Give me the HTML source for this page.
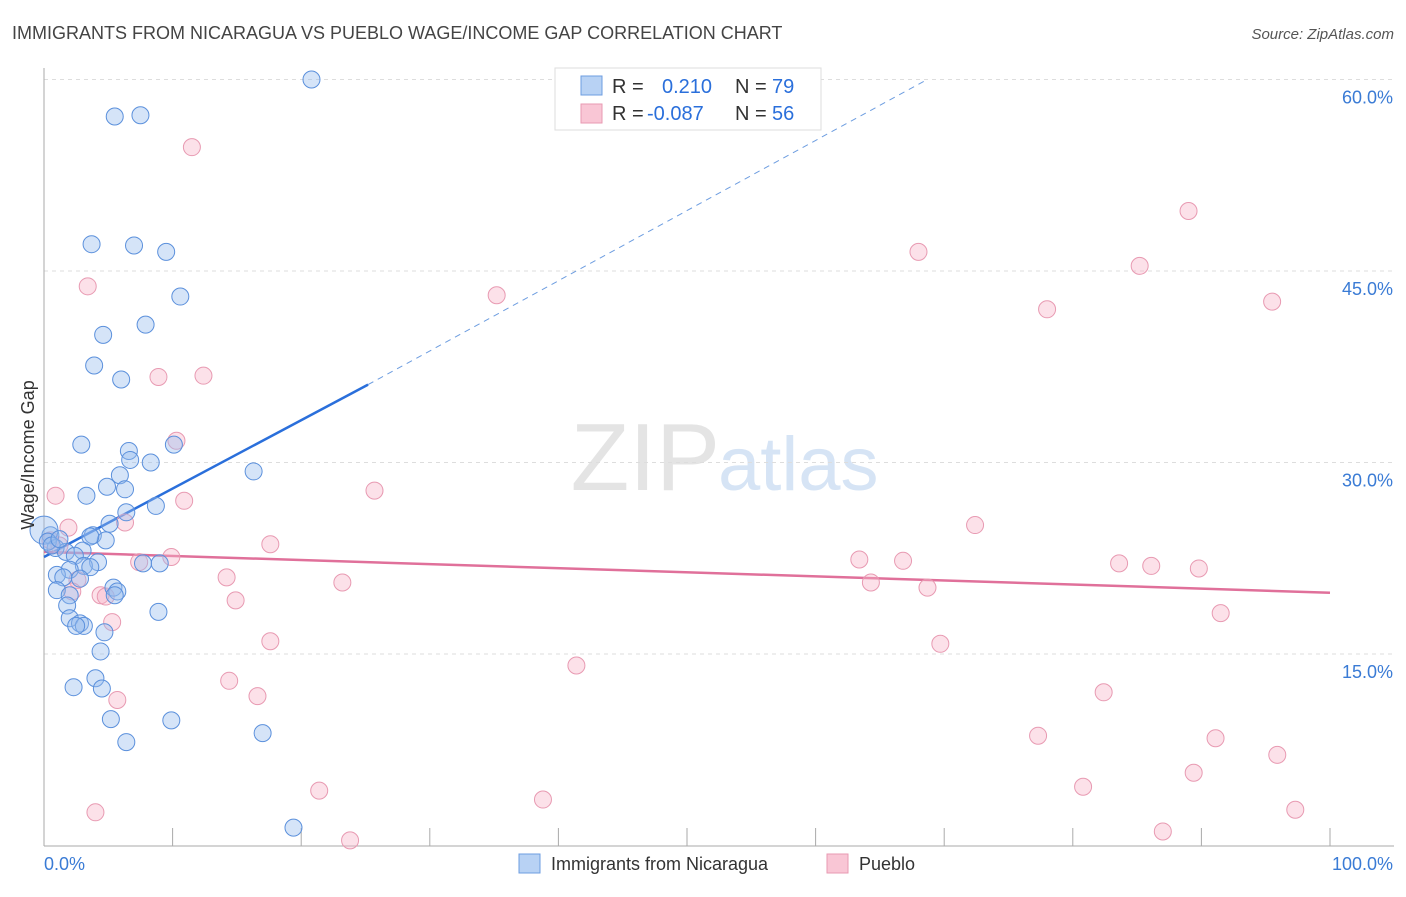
<!DOCTYPE html>
<html><head><meta charset="utf-8"><style>
body{margin:0;background:#fff;font-family:"Liberation Sans",sans-serif;}
svg text{font-family:"Liberation Sans",sans-serif;}
</style></head><body>
<svg id="chart" width="1406" height="892">
<text x="12" y="39" font-size="18" fill="#444">IMMIGRANTS FROM NICARAGUA VS PUEBLO WAGE/INCOME GAP CORRELATION CHART</text>
<text x="1394" y="39" font-size="15" fill="#555" font-style="italic" text-anchor="end">Source: ZipAtlas.com</text>
<text x="720" y="490" font-size="96" fill="#e4e4e4" text-anchor="end" font-family="Liberation Serif">ZIP</text>
<text x="718" y="490" font-size="76" fill="#d6e4f5">atlas</text>
<g id="grid"></g><g id="axes"></g>
<g id="trend"></g><g id="pts"></g>
<text x="34" y="455" font-size="18" fill="#333" transform="rotate(-90 34 455)" text-anchor="middle">Wage/Income Gap</text>
<g>
<rect x="555" y="68" width="266" height="62" fill="#fff" stroke="#ddd"/>
<rect x="581" y="76" width="21" height="19" fill="#b8d2f4" stroke="#6d9de0"/>
<rect x="581" y="104" width="21" height="19" fill="#f9c6d5" stroke="#e89ab2"/>
<text x="612" y="93" font-size="20" fill="#333">R = </text><text x="662" y="93" font-size="20" fill="#2a6fdb">0.210</text>
<text x="735" y="93" font-size="20" fill="#333">N = </text><text x="772" y="93" font-size="20" fill="#2a6fdb">79</text>
<text x="612" y="120" font-size="20" fill="#333">R = </text><text x="647" y="120" font-size="20" fill="#2a6fdb">-0.087</text>
<text x="735" y="120" font-size="20" fill="#333">N = </text><text x="772" y="120" font-size="20" fill="#2a6fdb">56</text>
</g>
<g>
<rect x="519" y="854" width="21" height="19" fill="#b8d2f4" stroke="#6d9de0"/>
<text x="551" y="870" font-size="18" fill="#333">Immigrants from Nicaragua</text>
<rect x="827" y="854" width="21" height="19" fill="#f9c6d5" stroke="#e89ab2"/>
<text x="859" y="870" font-size="18" fill="#333">Pueblo</text>
</g>
</svg>
<script>
const blueX=[20.8,5.5,7.5,3.7,7.0,9.5,10.6,7.9,4.6,3.9,6.0,2.9,10.1,6.6,6.7,8.3,16.3,5.9,6.3,4.9,3.3,8.7,6.4,5.1,3.8,4.8,3.6,0.5,0.0,0.9,3.0,1.7,2.4,4.2,7.7,9.0,3.1,3.6,2.0,1.0,1.5,2.8,5.4,5.7,5.5,1.0,2.0,1.8,8.9,2.0,2.8,3.1,2.5,4.7,4.4,4.0,2.3,4.5,5.2,9.9,17.0,6.4,19.4,0.3,0.6,1.2];
const blueY=[60.0,57.1,57.2,47.1,47.0,46.5,43.0,40.8,40.0,37.6,36.5,31.4,31.4,30.9,30.2,30.0,29.3,29.0,27.9,28.1,27.4,26.6,26.1,25.2,24.3,23.9,24.2,24.3,24.7,23.3,23.1,23.0,22.7,22.2,22.1,22.1,21.9,21.8,21.6,21.2,21.0,20.9,20.2,19.9,19.6,20.0,19.6,18.8,18.3,17.8,17.4,17.2,17.2,16.7,15.2,13.1,12.4,12.3,9.9,9.8,8.8,8.1,1.4,23.8,23.5,24.0];
const pinkX=[11.5,3.4,35.2,68.0,89.0,85.2,78.0,95.5,8.9,12.4,10.3,0.9,25.7,10.9,6.3,1.9,72.4,17.6,9.9,7.4,63.4,66.8,83.6,86.1,89.8,14.2,23.2,64.3,68.7,2.6,2.2,4.4,4.8,14.9,91.5,5.3,17.6,69.7,41.4,14.4,16.6,5.7,82.4,77.3,91.1,95.9,89.4,80.8,21.4,38.8,4.0,97.3,87.0,23.8,0.5,1.2];
const pinkY=[54.7,43.8,43.1,46.5,49.7,45.4,42.0,42.6,36.7,36.8,31.7,27.4,27.8,27.0,25.3,24.9,25.1,23.6,22.6,22.2,22.4,22.3,22.1,21.9,21.7,21.0,20.6,20.6,20.2,20.8,19.9,19.6,19.5,19.2,18.2,17.5,16.0,15.8,14.1,12.9,11.7,11.4,12.0,8.6,8.4,7.1,5.7,4.6,4.3,3.6,2.6,2.8,1.1,0.4,23.9,23.5];
const yTicks=[15,30,45,60];
const yTickLabels=["15.0%","30.0%","45.0%","60.0%"];
const xTicks=[0,10,20,30,40,50,60,70,80,90,100];
const blueTrend={x0:0,y0:22.6,x1:25.2,y1:36.1,x2:68.5,y2:59.9};
const pinkTrend={x0:0,y0:23.0,x1:100,y1:19.8};
const X=v=>44+v*12.86, Y=v=>845.5-v*191.5/15;
const NS="http://www.w3.org/2000/svg";
function mk(tag,attrs,parent){const e=document.createElementNS(NS,tag);for(const k in attrs)e.setAttribute(k,attrs[k]);document.getElementById(parent).appendChild(e);return e;}
yTicks.forEach((t,i)=>{
 const g=mk('line',{x1:44,x2:1394,y1:Y(t),y2:Y(t),stroke:'#ddd','stroke-dasharray':'4,4'},'grid');
 
 
 const l=mk('text',{x:1393,y:Y(t)+24,'font-size':18,fill:'#3a7bd5','text-anchor':'end'},'grid');
 l.textContent=yTickLabels[i];
 
 
});
const ax=mk('line',{x1:44,x2:44,y1:68,y2:846,stroke:'#aaa'},'axes');


const bx=mk('line',{x1:44,x2:1394,y1:846,y2:846,stroke:'#aaa'},'axes');


xTicks.forEach(t=>{
 const tk=mk('line',{x1:X(t),x2:X(t),y1:828,y2:846,stroke:'#aaa'},'axes');
 
 
});
const xl0=mk('text',{x:44,y:870,'font-size':18,fill:'#3a7bd5'},'axes');xl0.textContent='0.0%';


const xl1=mk('text',{x:1393,y:870,'font-size':18,fill:'#3a7bd5','text-anchor':'end'},'axes');xl1.textContent='100.0%';


pinkX.forEach((x,i)=>{
 const c=mk('circle',{cx:X(x),cy:Y(pinkY[i]),r:8.5,fill:'rgba(248,180,200,0.4)',stroke:'#e89ab2','stroke-width':1},'pts');
 
 
});
blueX.forEach((x,i)=>{
 const c=mk('circle',{cx:X(x),cy:Y(blueY[i]),r:(i==28?14:8.5),fill:'rgba(150,188,238,0.4)',stroke:'#5b90dc','stroke-width':1},'pts');
 
 
});
const b1=mk('line',{x1:X(blueTrend.x0),y1:Y(blueTrend.y0),x2:X(blueTrend.x1),y2:Y(blueTrend.y1),stroke:'#2a6fdb','stroke-width':2.5},'trend');


const b2=mk('line',{x1:X(blueTrend.x1),y1:Y(blueTrend.y1),x2:X(blueTrend.x2),y2:Y(blueTrend.y2),stroke:'#6d9de0','stroke-width':1,'stroke-dasharray':'6,5'},'trend');


const p1=mk('line',{x1:X(pinkTrend.x0),y1:Y(pinkTrend.y0),x2:X(pinkTrend.x1),y2:Y(pinkTrend.y1),stroke:'#e0709a','stroke-width':2.5},'trend');


</script>
</body></html>
